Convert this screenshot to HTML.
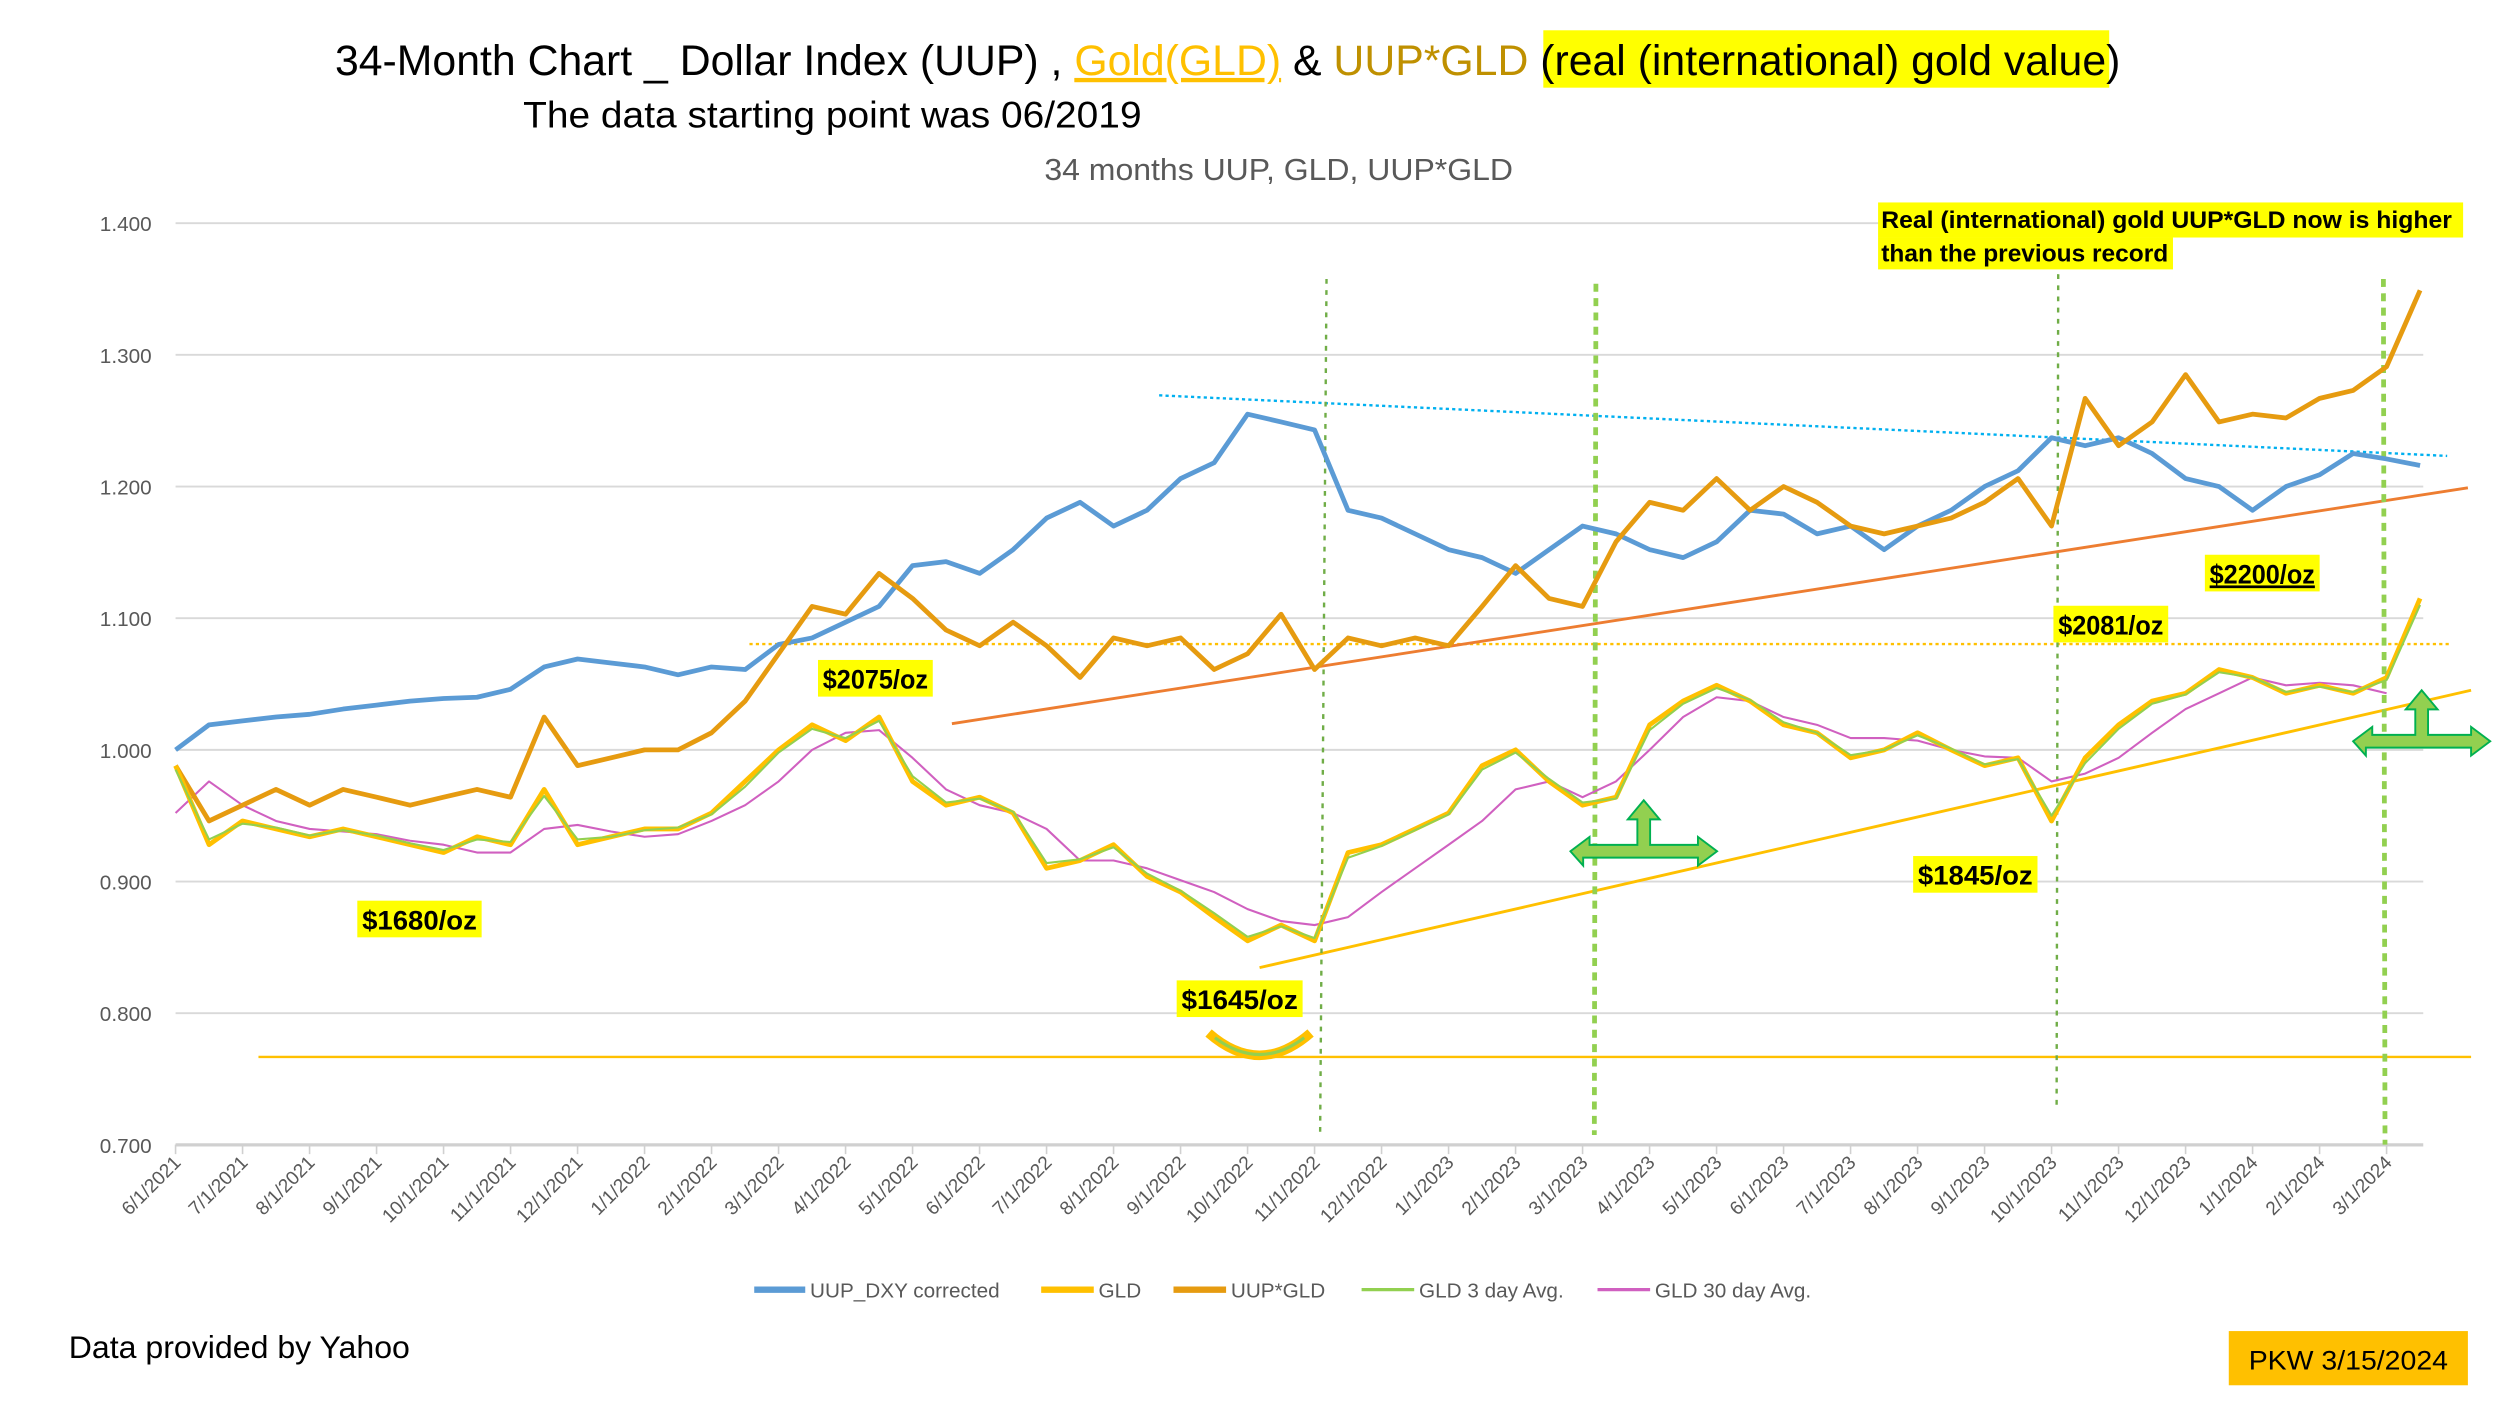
<!DOCTYPE html>
<html><head><meta charset="utf-8"><style>
html,body{margin:0;padding:0;background:#fff}
svg{display:block;font-family:"Liberation Sans",sans-serif}
</style></head><body>
<svg id="chart" width="2500" height="1406" viewBox="0 0 1568 882" xmlns="http://www.w3.org/2000/svg">
<rect width="1568" height="882" fill="#fff"/>
<g>
<rect x="968" y="19" width="355" height="36" fill="#ffff00"/>
<text x="210" y="47" font-size="27" fill="#000" textLength="1120" lengthAdjust="spacingAndGlyphs">34-Month Chart _ Dollar Index (UUP) , <tspan fill="#ffc000" text-decoration="underline">Gold(GLD)</tspan>  &amp; <tspan fill="#bf9000">UUP*GLD</tspan> (real (international) gold value)</text>
</g>
<text x="328" y="80" font-size="23" textLength="388" lengthAdjust="spacingAndGlyphs">The data starting point was 06/2019</text>
<text x="802" y="113" font-size="19" fill="#595959" text-anchor="middle" textLength="294" lengthAdjust="spacingAndGlyphs">34 months UUP, GLD, UUP*GLD</text>
<g id="grid"></g><g id="axes"></g><g id="overlays"></g><g id="series"></g><g id="annot"></g>
<g font-size="13" fill="#595959">
<line x1="473" y1="809" x2="505" y2="809" stroke="#5b9bd5" stroke-width="4"/><text x="508" y="814">UUP_DXY corrected</text>
<line x1="653" y1="809" x2="686" y2="809" stroke="#ffc000" stroke-width="4"/><text x="689" y="814">GLD</text>
<line x1="736" y1="809" x2="769" y2="809" stroke="#e69b10" stroke-width="4"/><text x="772" y="814">UUP*GLD</text>
<line x1="854" y1="809" x2="887" y2="809" stroke="#92d050" stroke-width="2"/><text x="890" y="814">GLD 3 day Avg.</text>
<line x1="1002" y1="809" x2="1035" y2="809" stroke="#d060c0" stroke-width="2"/><text x="1038" y="814">GLD 30 day Avg.</text>
</g>
<text x="43" y="852" font-size="20" textLength="214" lengthAdjust="spacingAndGlyphs">Data provided by Yahoo</text>
<g><rect x="1398" y="835" width="150" height="34" fill="#ffc000"/><text x="1473" y="859" font-size="17" text-anchor="middle" textLength="125" lengthAdjust="spacingAndGlyphs">PKW 3/15/2024</text></g>
</svg>
<script>
const months=["6/1/2021","7/1/2021","8/1/2021","9/1/2021","10/1/2021","11/1/2021","12/1/2021","1/1/2022","2/1/2022","3/1/2022","4/1/2022","5/1/2022","6/1/2022","7/1/2022","8/1/2022","9/1/2022","10/1/2022","11/1/2022","12/1/2022","1/1/2023","2/1/2023","3/1/2023","4/1/2023","5/1/2023","6/1/2023","7/1/2023","8/1/2023","9/1/2023","10/1/2023","11/1/2023","12/1/2023","1/1/2024","2/1/2024","3/1/2024"];
const yTicks=[0.7,0.8,0.9,1.0,1.1,1.2,1.3,1.4];
const uup=[1.000,1.019,1.022,1.025,1.027,1.031,1.034,1.037,1.039,1.040,1.046,1.063,1.069,1.066,1.063,1.057,1.063,1.061,1.080,1.085,1.097,1.109,1.140,1.143,1.134,1.152,1.176,1.188,1.170,1.182,1.206,1.218,1.255,1.249,1.243,1.182,1.176,1.164,1.152,1.146,1.134,1.152,1.170,1.164,1.152,1.146,1.158,1.182,1.179,1.164,1.170,1.152,1.170,1.182,1.200,1.212,1.237,1.231,1.237,1.225,1.206,1.200,1.182,1.200,1.209,1.225,1.221,1.216];
const uupGld=[0.988,0.946,0.958,0.970,0.958,0.970,0.964,0.958,0.964,0.970,0.964,1.025,0.988,0.994,1.000,1.000,1.013,1.037,1.073,1.109,1.103,1.134,1.115,1.091,1.079,1.097,1.079,1.055,1.085,1.079,1.085,1.061,1.073,1.103,1.061,1.085,1.079,1.085,1.079,1.109,1.140,1.115,1.109,1.158,1.188,1.182,1.206,1.182,1.200,1.188,1.170,1.164,1.170,1.176,1.188,1.206,1.170,1.267,1.231,1.249,1.285,1.249,1.255,1.252,1.267,1.273,1.291,1.349];
const gld=[0.988,0.928,0.946,0.940,0.934,0.940,0.934,0.928,0.922,0.934,0.928,0.970,0.928,0.934,0.940,0.940,0.952,0.976,1.000,1.019,1.007,1.025,0.976,0.958,0.964,0.952,0.910,0.916,0.928,0.904,0.892,0.873,0.855,0.867,0.855,0.922,0.928,0.940,0.952,0.988,1.000,0.976,0.958,0.964,1.019,1.037,1.049,1.037,1.019,1.013,0.994,1.000,1.013,1.000,0.988,0.994,0.946,0.994,1.019,1.037,1.043,1.061,1.055,1.043,1.049,1.043,1.055,1.115];
const gld3=[0.985,0.932,0.944,0.941,0.935,0.939,0.935,0.929,0.924,0.932,0.930,0.965,0.932,0.934,0.939,0.941,0.951,0.972,0.998,1.016,1.009,1.022,0.980,0.960,0.963,0.953,0.914,0.917,0.926,0.906,0.893,0.876,0.858,0.866,0.857,0.918,0.927,0.939,0.951,0.985,0.998,0.978,0.960,0.963,1.015,1.035,1.047,1.038,1.021,1.013,0.996,1.000,1.011,1.001,0.989,0.993,0.950,0.990,1.016,1.035,1.042,1.059,1.055,1.044,1.048,1.044,1.053,1.110];
const gld30=[0.952,0.976,0.958,0.946,0.940,0.938,0.936,0.931,0.928,0.922,0.922,0.940,0.943,0.938,0.934,0.936,0.946,0.958,0.976,1.000,1.013,1.015,0.994,0.970,0.958,0.952,0.940,0.916,0.916,0.910,0.901,0.892,0.879,0.870,0.867,0.873,0.892,0.910,0.928,0.946,0.970,0.976,0.964,0.976,1.000,1.025,1.040,1.037,1.025,1.019,1.009,1.009,1.007,1.000,0.995,0.994,0.976,0.982,0.994,1.013,1.031,1.043,1.055,1.049,1.051,1.049,1.043];
const NS="http://www.w3.org/2000/svg";
const X=t=>110+42.03*t;
const Y=v=>140+(1.4-v)*826;
function el(tag,attrs,parent){const e=document.createElementNS(NS,tag);for(const k in attrs)e.setAttribute(k,attrs[k]);parent.appendChild(e);return e;}
const grid=document.getElementById('grid'),axes=document.getElementById('axes'),series=document.getElementById('series'),ov=document.getElementById('overlays'),an=document.getElementById('annot');
yTicks.forEach(v=>{
 const l=el('line',{x1:110,x2:1520,y1:Y(v),y2:Y(v),stroke:v===0.7?'#d0d0d0':'#d9d9d9','stroke-width':v===0.7?2:1.2},grid);
 
 
 const t=el('text',{x:95,y:Y(v)+5,'font-size':13,fill:'#595959','text-anchor':'end'},axes);t.textContent=v.toFixed(3);
 
 
});
months.forEach((m,i)=>{
 const x=X(i);
 el('line',{x1:x,x2:x,y1:718,y2:724,stroke:'#d0d0d0'},axes);
 const t=el('text',{x:0,y:0,'font-size':12,fill:'#595959','text-anchor':'end',transform:`translate(${x+4},${730}) rotate(-45)`},axes);t.textContent=m;
 
 
});
function line(arr,color,w,name){
 const d=arr.map((v,i)=>(i?'L':'M')+X(i*0.5).toFixed(1)+','+Y(v).toFixed(1)).join('');
 const p=el('path',{d:d,fill:'none',stroke:color,'stroke-width':w,'stroke-linejoin':'round'},series);
 
 
}
line(gld30,'#d060c0',1.3,'gld-30day-line');
line(uup,'#5b9bd5',3,'uup-line');
line(uupGld,'#e69b10',3,'uup-gld-line');
line(gld,'#ffc000',3,'gld-line');
line(gld3,'#92d050',1.3,'gld-3day-line');
// overlays (trend lines, guides)
function ln(a,name){const l=el('line',a,ov);}
ln({x1:162,y1:663,x2:1550,y2:663,stroke:'#ffc000','stroke-width':1.5},'support-line');
ln({x1:470,y1:404,x2:1538,y2:404,stroke:'#ffc000','stroke-width':1.5,'stroke-dasharray':'2,2'},'record-dotted-line');
ln({x1:727,y1:248,x2:1535,y2:286,stroke:'#00b0f0','stroke-width':1.5,'stroke-dasharray':'2,2'},'uup-resistance-line');
ln({x1:597,y1:454,x2:1548,y2:306,stroke:'#ed7d31','stroke-width':1.8},'uup-gld-trend-line');
ln({x1:790,y1:607,x2:1550,y2:433,stroke:'#ffc000','stroke-width':1.8},'gld-trend-line');
ln({x1:832,y1:175,x2:828,y2:710,stroke:'#70ad47','stroke-width':1.5,'stroke-dasharray':'3,4'},'vertical-marker-1');
ln({x1:1001,y1:178,x2:1000,y2:712,stroke:'#92d050','stroke-width':3,'stroke-dasharray':'5,4'},'vertical-marker-2');
ln({x1:1291,y1:172,x2:1290,y2:693,stroke:'#70ad47','stroke-width':1.5,'stroke-dasharray':'3,4'},'vertical-marker-3');
ln({x1:1495,y1:175,x2:1496,y2:718,stroke:'#92d050','stroke-width':3,'stroke-dasharray':'5,4'},'vertical-marker-4');
function arrow(cx,cy,hw,name){
 const g=el('path',{d:`M${cx-hw},${cy} l12,-9 v5 h${hw-18} v-16 h-6 l10,-12 l10,12 h-6 v16 h${hw-18} v-5 l12,9 l-12,9 v-5 h${-(2*hw-24)} v5 z`,fill:'#92d050',stroke:'#00b050','stroke-width':1.2},an);
 
}
arrow(1033,534,48,'breakout-arrow-1');
arrow(1521,465,45,'breakout-arrow-2');
const sm=el('path',{d:'M758,648 Q790,676 822,648',fill:'none',stroke:'#ffc000','stroke-width':6},an);

el('path',{d:'M762,651 Q790,672 818,651',fill:'none',stroke:'#92d050','stroke-width':2},an);
function label(x,y,w,txt,name,ul){
 const g=el('g',{},an);
 el('rect',{x:x,y:y,width:w,height:23,fill:'#ffff00'},g);
 const t=el('text',{x:x+w/2,y:y+18,'font-size':17,'font-weight':'bold','text-anchor':'middle',textLength:w-6,lengthAdjust:'spacingAndGlyphs'},g);
 if(ul)t.setAttribute('text-decoration','underline');
 t.textContent=txt;
}
label(224,565,78,'$1680/oz','label-1680');
label(513,414,72,'$2075/oz','label-2075');
label(738,615,79,'$1645/oz','label-1645');
label(1200,537,78,'$1845/oz','label-1845');
label(1288,380,72,'$2081/oz','label-2081');
label(1383,348,72,'$2200/oz','label-2200',true);
const bg=el('g',{},an);
el('rect',{x:1178,y:127,width:367,height:22,fill:'#ffff00'},bg);
el('rect',{x:1178,y:149,width:185,height:20,fill:'#ffff00'},bg);
const t1=el('text',{x:1180,y:143,'font-size':15,'font-weight':'bold',textLength:358,lengthAdjust:'spacingAndGlyphs'},bg);t1.textContent='Real (international) gold  UUP*GLD now is higher';
const t2=el('text',{x:1180,y:164,'font-size':15,'font-weight':'bold',textLength:180,lengthAdjust:'spacingAndGlyphs'},bg);t2.textContent='than the previous record';
</script>
</body></html>
